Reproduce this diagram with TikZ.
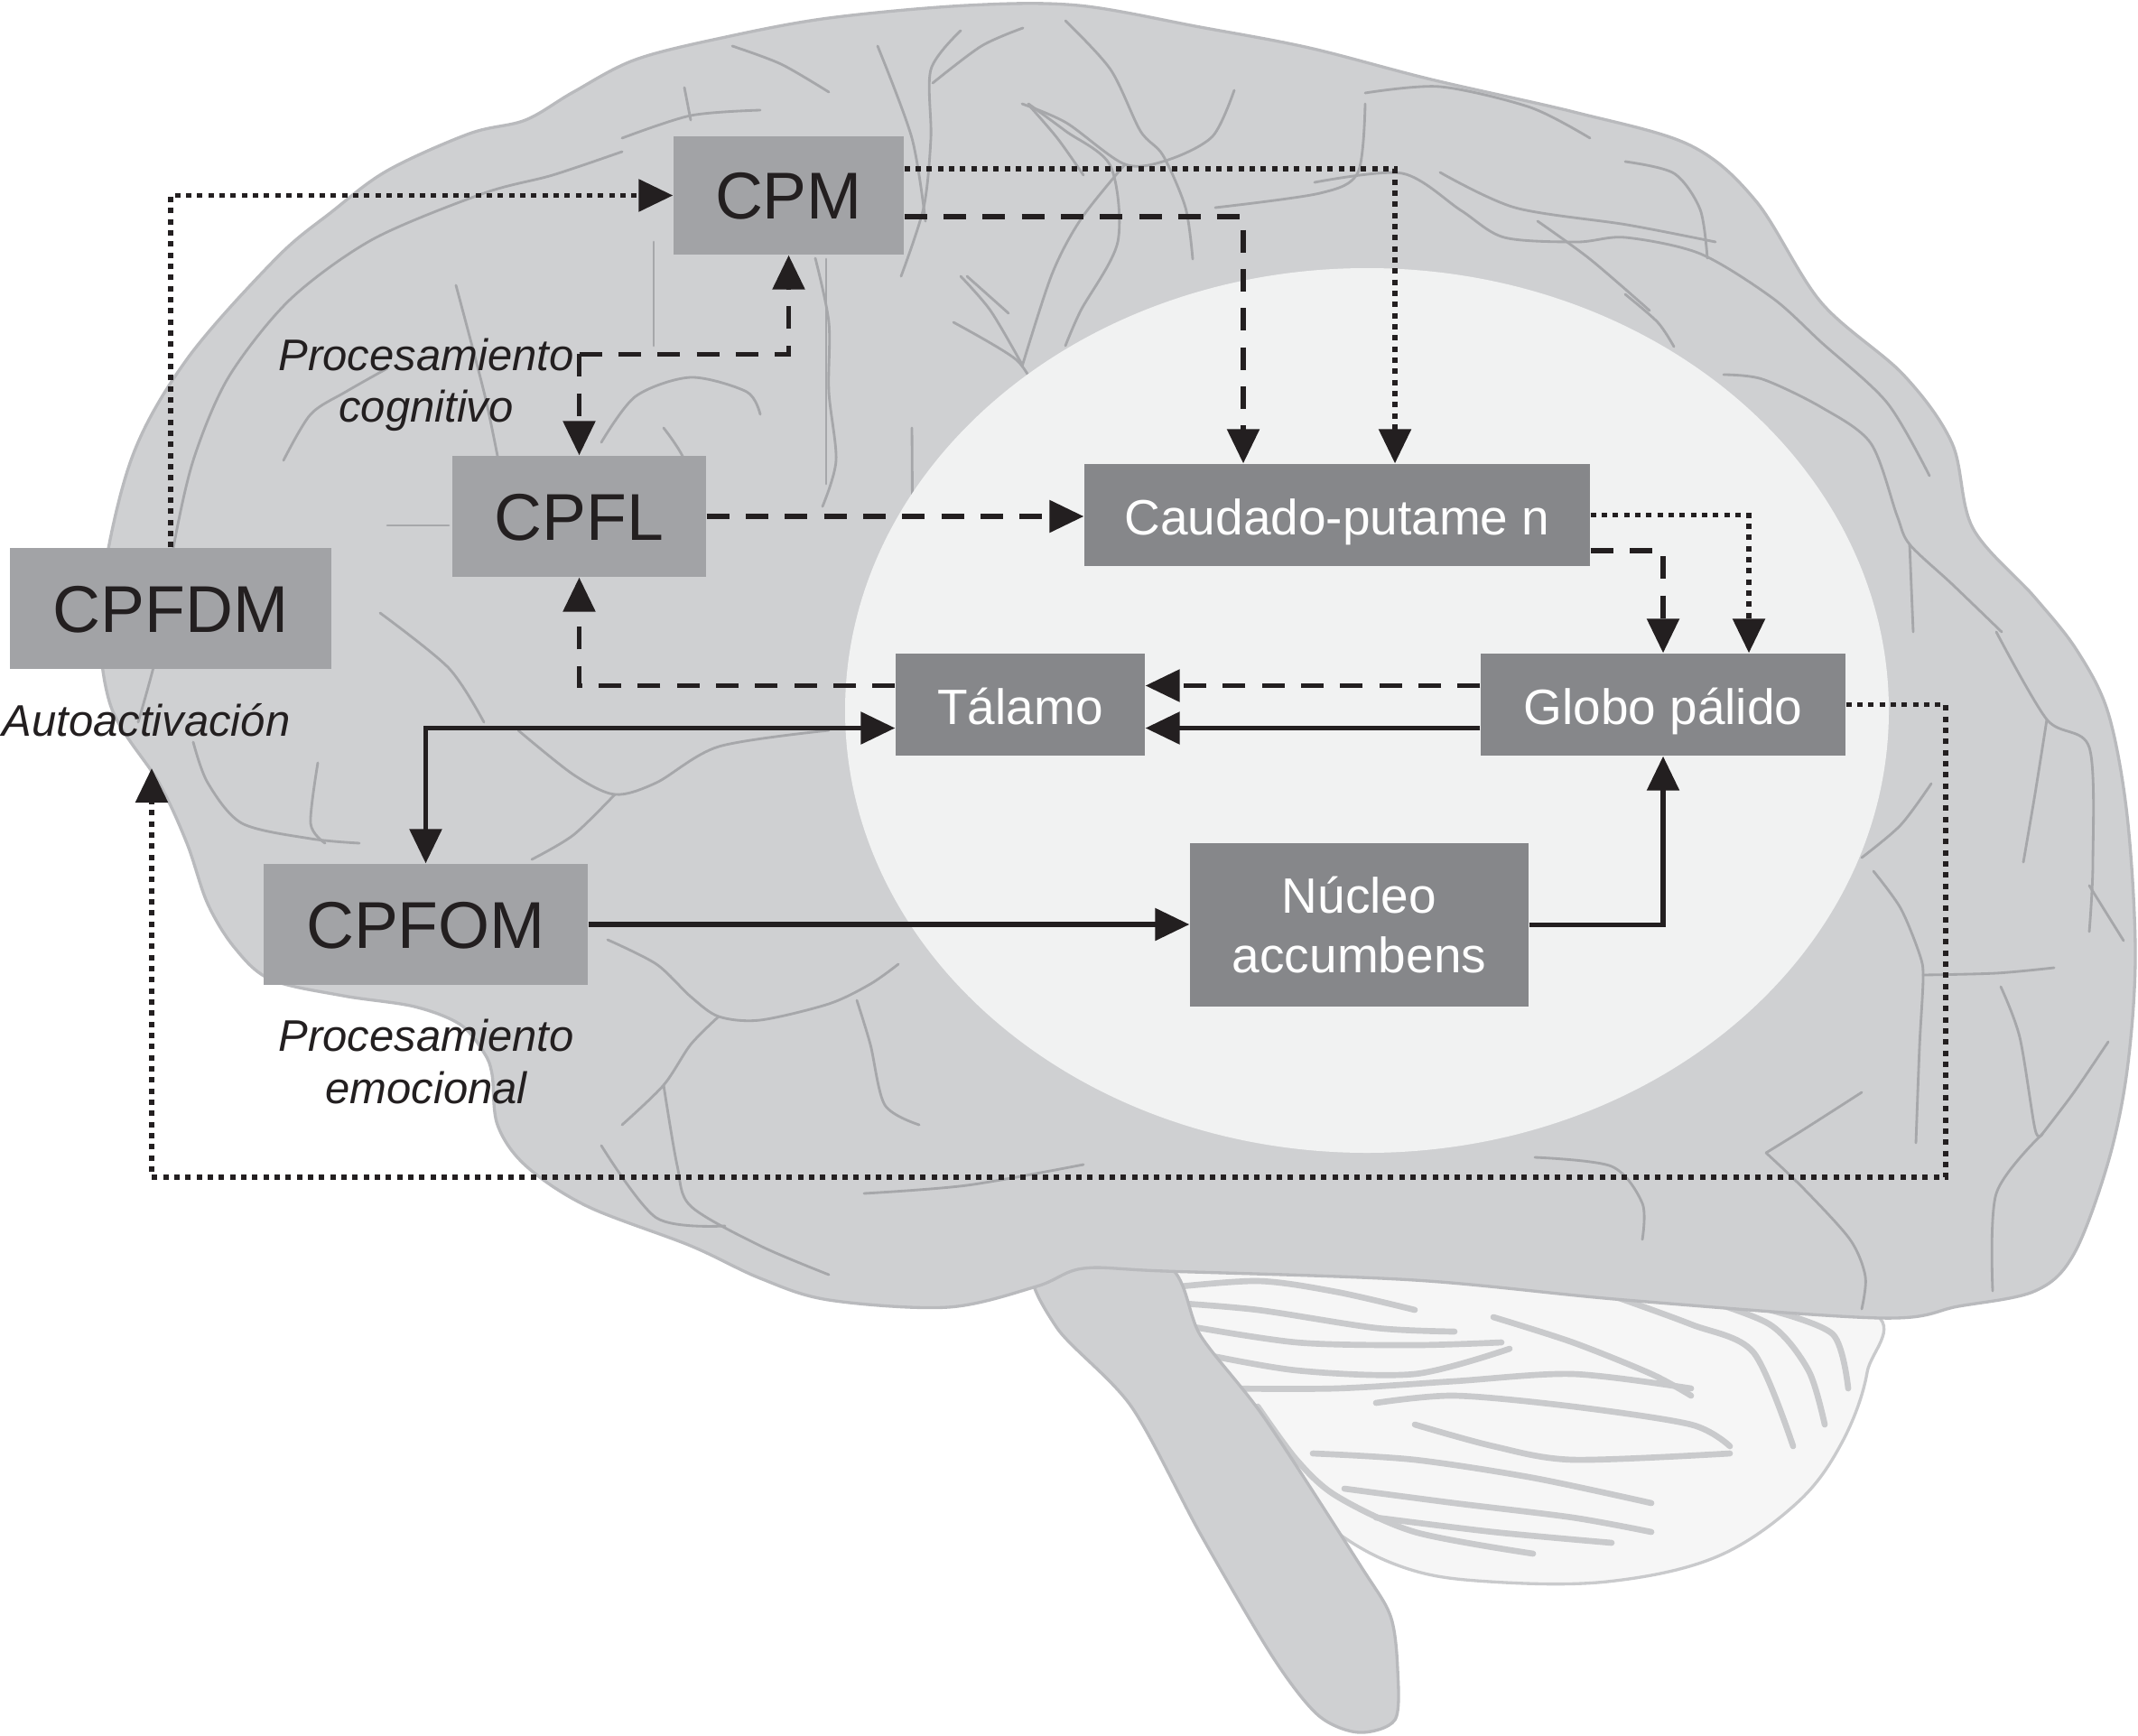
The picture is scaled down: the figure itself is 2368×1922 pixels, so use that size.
\documentclass[tikz,border=0pt]{standalone}
\usepackage{fontspec}
\setmainfont{Liberation Sans}
\usetikzlibrary{arrows.meta,calc}
\definecolor{brainfill}{HTML}{CFD0D2}
\definecolor{brainline}{HTML}{B9BABD}
\definecolor{sulcuscol}{HTML}{A6A7AA}
\definecolor{cerebfill}{HTML}{F6F6F6}
\definecolor{foliumcol}{HTML}{C9CACC}
\definecolor{ellipcol}{HTML}{F1F2F2}
\definecolor{boxlight}{HTML}{A2A3A6}
\definecolor{boxdark}{HTML}{86878A}
\definecolor{ink}{HTML}{231F20}
\begin{document}
\begin{tikzpicture}[x=0.3pt,y=-0.3pt,
  >={Triangle[length=11.4pt,width=10.5pt]},
  outerbox/.style={fill=boxlight, inner sep=0pt, text=ink, font=\fontsize{22}{26}\selectfont, text height=15.8pt, text depth=0pt},
  innerbox/.style={fill=boxdark, inner sep=0pt, text=white, font=\fontsize{16.5}{20}\selectfont, align=center},
  lbl/.style={inner sep=0pt, text=ink, font=\itshape\fontsize{14.7}{17}\selectfont, anchor=base},
  conn/.style={draw=ink, line width=1.7pt, ->},
  dashline/.style={dash pattern=on 7.5pt off 5.5pt},
  dotline/.style={dash pattern=on 1.8pt off 1.9pt},
  sulcus/.style={draw=sulcuscol, line width=0.85pt, line cap=round, line join=round},
  folium/.style={draw=foliumcol, line width=2pt, line cap=round},
]
\useasboundingbox (0,0) rectangle (2368,1922);
\fill[white] (0,0) rectangle (2368,1922);

% cerebellum
\draw[fill=cerebfill, draw=foliumcol, line width=1pt] plot[smooth cycle, tension=0.6] coordinates {
 (1290,1400) (1567,1404) (1800,1424) (2065,1450) (2068,1520) (2040,1598) (1990,1665)
 (1900,1725) (1780,1752) (1650,1752) (1560,1738) (1480,1697) (1393,1617) (1332,1538) (1297,1440)};
\foreach \pts in {
 {(1288,1427) (1393,1419) (1480,1431) (1567,1451)},
 {(1297,1443) (1393,1451) (1524,1471) (1611,1475)},
 {(1305,1467) (1436,1487) (1567,1490) (1663,1487)},
 {(1323,1498) (1436,1518) (1567,1522) (1672,1494)},
 {(1349,1538) (1480,1538) (1611,1530) (1742,1522) (1873,1538)},
 {(1654,1459) (1742,1487) (1829,1522) (1873,1546)},
 {(1785,1435) (1873,1467) (1942,1498) (1986,1602)},
 {(1873,1435) (1960,1467) (2003,1518) (2021,1578)},
 {(1960,1451) (2030,1478) (2047,1538)},
 {(1524,1554) (1611,1546) (1742,1558) (1873,1578) (1916,1602)},
 {(1567,1578) (1654,1602) (1742,1617) (1916,1610)},
 {(1393,1558) (1436,1617) (1480,1657) (1567,1697) (1698,1721)},
 {(1454,1610) (1567,1617) (1698,1637) (1829,1665)},
 {(1489,1649) (1611,1665) (1742,1681) (1829,1697)},
 {(1524,1681) (1654,1697) (1785,1709)}}
 {\draw[folium] plot[smooth] coordinates \pts;}

% brain stem
\draw[fill=brainfill, draw=brainline, line width=1pt] plot[smooth cycle, tension=0.5] coordinates {
 (1148,1400) (1170,1470) (1253,1558) (1330,1700) (1410,1836) (1460,1900) (1505,1919)
 (1545,1905) (1548,1850) (1540,1790) (1506,1733) (1400,1570) (1330,1480) (1290,1400)};

% cerebrum
\draw[fill=brainfill, draw=brainline, line width=1pt] plot[smooth cycle, tension=0.55] coordinates {
 (145,510) (207,398) (306,286) (367,235) (429,189) (520,148) (582,133) (635,102) (704,66)
 (804,41) (918,20) (1071,6) (1194,6) (1329,30) (1450,53) (1585,88) (1747,125) (1872,161)
 (1945,223) (2017,335) (2108,415) (2162,491) (2185,585) (2253,661) (2300,720) (2335,790)
 (2356,904) (2365,1057) (2356,1185)
 (2335,1287) (2297,1389) (2254,1430) (2169,1447) (2083,1460) (1800,1440) (1567,1418)
 (1290,1408) (1200,1405) (1148,1425) (1050,1448) (918,1440) (842,1416) (765,1380) (650,1336)
 (582,1291) (551,1246) (545,1190) (536,1166) (510,1135) (459,1115) (380,1103) (300,1085)
 (260,1050) (230,1001) (207,934) (176,867) (122,780) (112,663)};

% sulci
\foreach \pts in {
 {(758,97) (765,133)},
 {(972,51) (1010,153) (1025,245)},
 {(1033,92) (1087,51) (1133,31)},
 {(1140,117) (1171,153) (1200,194)},
 {(1056,357) (1125,398) (1148,434)},
 {(1071,306) (1117,347)},
 {(903,286) (918,357) (918,434) (926,510) (911,561)},
 {(1010,474) (1010,612) (1003,663)},
 {(505,316) (536,434) (551,505)},
 {(666,490) (704,439) (765,418) (827,434) (842,459)},
 {(735,474) (758,510) (765,561)},
 {(429,582) (497,582)},
 {(421,679) (497,740) (536,800)},
 {(314,510) (344,459) (383,434) (429,408)},
 {(153,800) (176,714) (191,612) (214,510) (253,418) (321,332) (413,265) (536,214) (612,194) (689,168)},
 {(811,51) (865,71) (918,102)},
 {(689,153) (765,128) (842,122)},
 {(214,822) (230,867) (268,912) (344,929) (398,934)},
 {(352,845) (344,912) (360,934)},
 {(574,809) (635,858) (681,880) (727,867) (796,827) (918,809)},
 {(681,880) (635,925) (589,952)},
 {(673,1041) (727,1068) (765,1104) (796,1126) (842,1130) (918,1112) (964,1090) (995,1068)},
 {(796,1126) (765,1157) (735,1202) (689,1246)},
 {(949,1108) (964,1157) (980,1224) (1018,1246)},
 {(735,1202) (750,1291) (765,1336) (842,1380) (918,1412)},
 {(957,1322) (1071,1313) (1200,1290)},
 {(666,1269) (727,1349) (803,1358)},
 {(2075,965) (2105,1006) (2126,1057) (2130,1083) (2126,1159) (2122,1266)},
 {(2130,1080) (2211,1078) (2275,1072)},
 {(2062,950) (2105,914) (2139,868)},
 {(2216,1093) (2237,1149) (2254,1251) (2262,1256)},
 {(2262,1256) (2297,1210) (2335,1154)},
 {(2262,1256) (2211,1322) (2207,1430)},
 {(1956,1277) (1998,1317) (2049,1373) (2066,1414) (2062,1450)},
 {(1956,1277) (1998,1251) (2062,1210)},
 {(1700,1282) (1785,1292) (1819,1333) (1819,1373)},
 {(2267,797) (2254,879) (2241,955)},
 {(2211,700) (2267,797) (2314,828) (2318,955) (2314,1032)},
 {(2314,981) (2352,1042)},
 {(1132,115) (1181,136) (1246,182) (1294,177) (1343,151) (1367,100)},
 {(1246,182) (1197,243) (1165,304) (1132,406)},
 {(1456,202) (1553,192) (1618,233) (1666,263) (1747,268) (1800,263) (1883,281) (1963,330) (2017,379) (2090,446) (2137,527)},
 {(1800,179) (1854,192) (1883,232) (1891,286)},
 {(1800,326) (1836,357) (1854,384)},
 {(1909,415) (1952,420) (2017,451) (2072,491) (2101,571) (2115,603) (2162,647) (2217,700)},
 {(2115,603) (2119,700)},
 {(1180,23) (1230,77) (1263,145) (1288,172) (1313,230) (1321,287)},
 {(1064,34) (1031,77) (1031,153) (1023,230) (998,306)},
 {(1139,115) (1180,145) (1230,184) (1238,268) (1197,344) (1180,383)},
 {(1064,306) (1097,344) (1131,402)},
 {(1512,103) (1595,96) (1695,119) (1761,153)},
 {(1512,115) (1504,191) (1462,214) (1346,230)},
 {(1595,191) (1678,230) (1802,249) (1900,268)},
 {(1703,245) (1761,287) (1827,344)},
 {(724,268) (724,383)},
 {(915,287) (915,536)}}
 {\draw[sulcus] plot[smooth] coordinates \pts;}

% basal ganglia region
\fill[ellipcol] (1514,787) ellipse [x radius=173.4pt, y radius=147pt];

% boxes
\node[outerbox, minimum width=76.5pt, minimum height=39.3pt] (cpm) at (873.5,216.5) {CPM};
\node[outerbox, minimum width=84.3pt, minimum height=40.2pt] (cpfl) at (641.5,572) {CPFL};
\node[outerbox, minimum width=106.8pt, minimum height=40.2pt] (cpfdm) at (189,674) {CPFDM};
\node[outerbox, minimum width=107.7pt, minimum height=40.2pt] (cpfom) at (471.5,1024) {CPFOM};
\node[innerbox, minimum width=168pt, minimum height=33.9pt, text height=12.9pt, text depth=0pt] (cau) at (1481,570.5) {Caudado-putame n};
\node[innerbox, minimum width=82.8pt, minimum height=33.9pt, text height=12.9pt, text depth=0pt] (tal) at (1130,780.5) {Tálamo};
\node[innerbox, minimum width=121.2pt, minimum height=33.9pt, text height=12.9pt, text depth=0pt] (glo) at (1842,780.5) {Globo pálido};
\node[innerbox, minimum width=112.5pt, minimum height=54.3pt] (nuc) at (1505.5,1024.5) {Núcleo\\accumbens};

% labels
\node[lbl] (pcog1) at (472,411) {Procesamiento};
\node[lbl] (pcog2) at (472,467) {cognitivo};
\node[lbl] (pemo1) at (472,1164) {Procesamiento};
\node[lbl] (pemo2) at (472,1222) {emocional};
\node[lbl] (auto) at (162,815) {Autoactivación};

% helper coordinates
\coordinate (pc) at ($(cpfl.north)+(0,-112)$);
\coordinate (loopA) at (2155,1304);
\coordinate (loopB) at (168,1304);
\coordinate (autotip) at (168,851);

% connectors
\draw[conn,dotline] (cpfdm.north) |- (cpm.west);
\draw[conn,dotline] ($(cpm.east)+(0,-29.5)$) -| ($(cau.north)+(64,0)$);
\draw[conn,dashline] ($(cpm.east)+(0,23.5)$) -| ($(cau.north)+(-104,0)$);
\draw[conn,dashline] (pc) -| (cpm.south);
\draw[conn,dashline] (pc) -- (cpfl.north);
\draw[conn,dashline] (cpfl.east) -- (cpfl.east -| cau.west);
\draw[conn,dashline] ($(tal.west)+(0,-21)$) -| (cpfl.south);
\draw[conn,dashline] ($(glo.west)+(0,-21)$) -- ($(tal.east)+(0,-21)$);
\draw[conn] ($(glo.west)+(0,26)$) -- ($(tal.east)+(0,26)$);
\draw[conn,<->] ($(tal.west)+(0,26)$) -| (cpfom.north);
\draw[conn] (cpfom.east) -- (cpfom.east -| nuc.west);
\draw[conn] (nuc.east) -| (glo.south);
\draw[conn,dotline] (cau.east) -| ($(glo.north)+(95,0)$);
\draw[conn,dashline] ($(cau.east)+(0,39.5)$) -| (glo.north);
\draw[conn,dotline] (glo.east) -| (loopA) -- (loopB) -- (autotip);
\end{tikzpicture}
\end{document}
